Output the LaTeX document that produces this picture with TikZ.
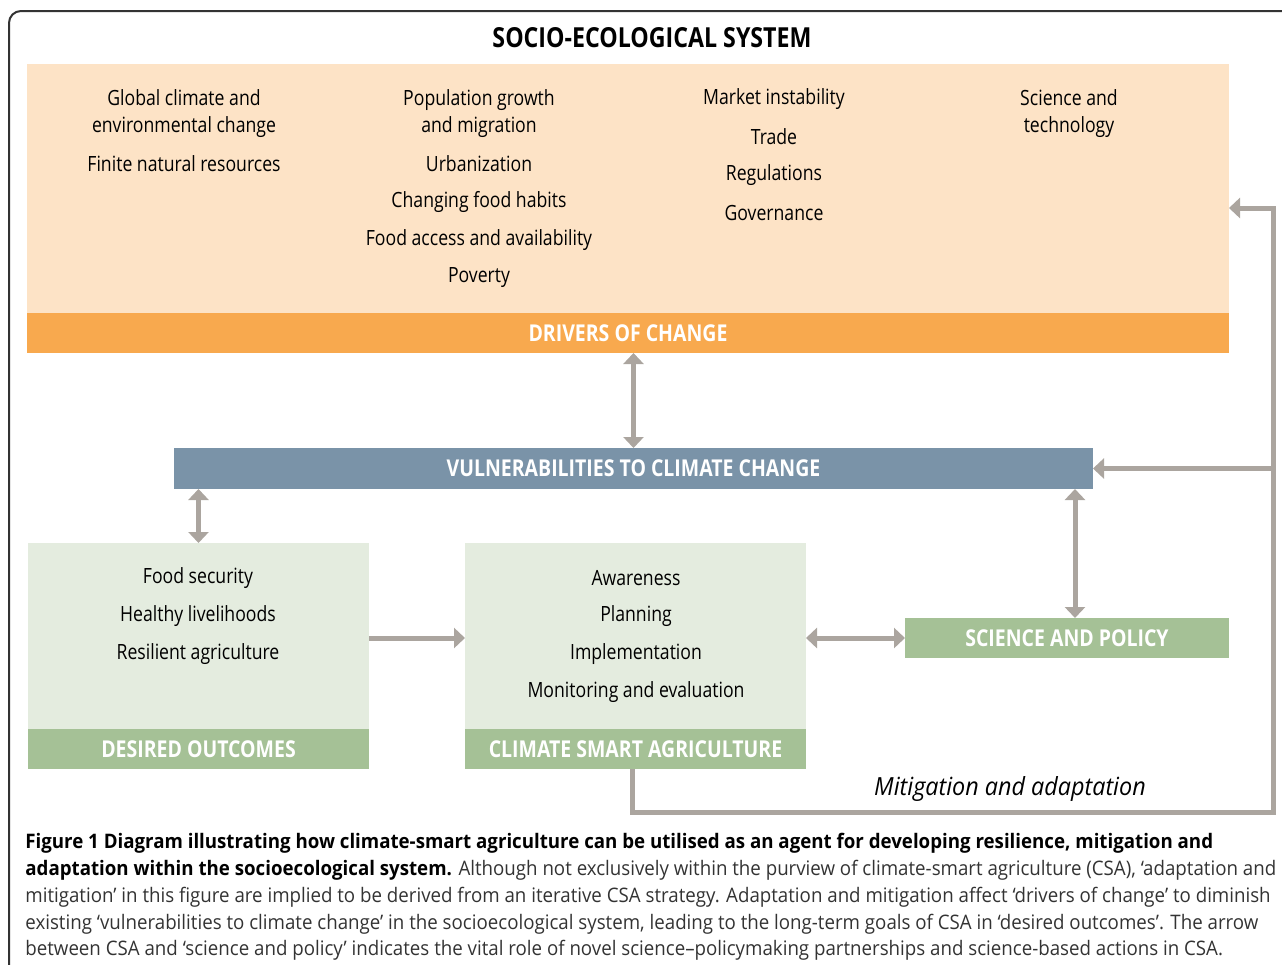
\documentclass[tikz,border=0pt]{standalone}
\usepackage{fontspec}
\setmainfont{Open Sans}[FakeStretch=0.84]
\newfontfamily\capfont{Open Sans}[FakeStretch=0.935]
\usetikzlibrary{arrows.meta}
\definecolor{peach}{HTML}{FDE3C6}
\definecolor{orangebar}{HTML}{F8A94E}
\definecolor{steel}{HTML}{7A93A8}
\definecolor{palegreen}{HTML}{E4ECDF}
\definecolor{greenbar}{HTML}{A5C196}
\definecolor{arrowgrey}{HTML}{ABA59F}
\newcommand{\itemfont}{\fontsize{10.5}{13.5}\selectfont}
\newcommand{\barfont}{\fontsize{11.6}{13}\selectfont\bfseries}

\begin{document}
\begin{tikzpicture}[x=0.5pt,y=-0.5pt,
  panel/.style={fill=#1,inner sep=0pt,outer sep=0pt},
  bar/.style={fill=#1,text=white,inner sep=0pt,outer sep=0pt,minimum height=20pt,font=\barfont},
  entry/.style={align=center,inner sep=0pt,font=\itemfont},
  link/.style={draw=arrowgrey,line width=2.5pt,line join=miter},
  one/.style={link,-{Triangle[width=10pt,length=5.5pt]}},
  both/.style={link,{Triangle[width=10pt,length=5.5pt]}-{Triangle[width=10pt,length=5.5pt]}}]

 \useasboundingbox (0,0) rectangle (1282,965);
 \clip (0,0) rectangle (1282,965);
 \draw[line width=1pt,black!80,rounded corners=6pt] (9,11) rectangle (1300,990);
 \node[font=\fontsize{13.8}{15}\selectfont\bfseries] (title) at (652,38) {SOCIO-ECOLOGICAL SYSTEM};

 \node[panel=peach,minimum width=601pt,minimum height=124.5pt] (drivers) at (628,188.5) {};
 \node[bar=orangebar,minimum width=601pt] (driversbar) at (628,333) {DRIVERS OF CHANGE};
 \node[entry] (d1) at (184,113.5) {Global climate and\\environmental change};
 \node[entry] (d2) at (184,164) {Finite natural resources};
 \node[entry] (d3) at (479,113.5) {Population growth\\and migration};
 \node[entry] (d4) at (479,164) {Urbanization};
 \node[entry] (d5) at (479,202) {Changing food habits};
 \node[entry] (d6) at (479,240) {Food access and availability};
 \node[entry] (d7) at (479,278) {Poverty};
 \node[entry] (d8) at (774,99) {Market instability};
 \node[entry] (d9) at (774,136.5) {Trade};
 \node[entry] (d10) at (774,175) {Regulations};
 \node[entry] (d11) at (774,213) {Governance};
 \node[entry] (d12) at (1069,113.5) {Science and\\technology};

 \node[bar=steel,minimum width=459.5pt,minimum height=20.5pt] (vuln) at (633.5,468.5) {VULNERABILITIES TO CLIMATE CHANGE};

 \node[panel=palegreen,minimum width=170.5pt,minimum height=93pt] (outcomes) at (198.5,636) {};
 \node[bar=greenbar,minimum width=170.5pt] (outcomesbar) at (198.5,749) {DESIRED OUTCOMES};
 \node[entry] (o1) at (198,578) {Food security};
 \node[entry] (o2) at (198,616) {Healthy livelihoods};
 \node[entry] (o3) at (198,654) {Resilient agriculture};

 \node[panel=palegreen,minimum width=170.5pt,minimum height=93pt] (csa) at (635.5,636) {};
 \node[bar=greenbar,minimum width=170.5pt] (csabar) at (635.5,749) {CLIMATE SMART AGRICULTURE};
 \node[entry] (c1) at (636,578) {Awareness};
 \node[entry] (c2) at (636,616) {Planning};
 \node[entry] (c3) at (636,654) {Implementation};
 \node[entry] (c4) at (636,692) {Monitoring and evaluation};

 \node[bar=greenbar,minimum width=162pt] (policy) at (1067,638) {SCIENCE AND POLICY};

 \coordinate (loopcorner) at (1273,812);
 \draw[both] (vuln.north) -- (vuln.north |- driversbar.south);
 \draw[both] (outcomes.north) -- (outcomes.north |- vuln.south);
 \draw[one] (outcomes.east |- policy.west) -- (csa.west |- policy.west);
 \draw[both] (csa.east |- policy.west) -- (policy.west);
 \draw[both] ([xshift=4pt]policy.north) -- ([xshift=4pt]policy.north |- vuln.south);
 \draw[one] ([xshift=-1.75pt]csabar.south) |- (loopcorner) |- ([yshift=-9.75pt]drivers.east);
 \draw[one] (loopcorner |- vuln.east) -- (vuln.east);
 \node[font=\capfont\fontsize{12.5}{14}\selectfont\itshape] (mitigation) at (1010,789) {Mitigation and adaptation};

 \node[anchor=north west,inner sep=0pt,align=left,text=black!80,font=\capfont\fontsize{10}{13.4}\selectfont] (caption) at (25,833)
  {\textcolor{black}{\bfseries Figure 1 Diagram illustrating how climate-smart agriculture can be utilised as an agent for developing resilience, mitigation and}\\
   \textcolor{black}{\bfseries adaptation within the socioecological system.} Although not exclusively within the purview of climate-smart agriculture (CSA), ‘adaptation and\\
   mitigation’ in this figure are implied to be derived from an iterative CSA strategy. Adaptation and mitigation affect ‘drivers of change’ to diminish\\
   existing ‘vulnerabilities to climate change’ in the socioecological system, leading to the long-term goals of CSA in ‘desired outcomes’. The arrow\\
   between CSA and ‘science and policy’ indicates the vital role of novel science–policymaking partnerships and science-based actions in CSA.};

\end{tikzpicture}
\end{document}
